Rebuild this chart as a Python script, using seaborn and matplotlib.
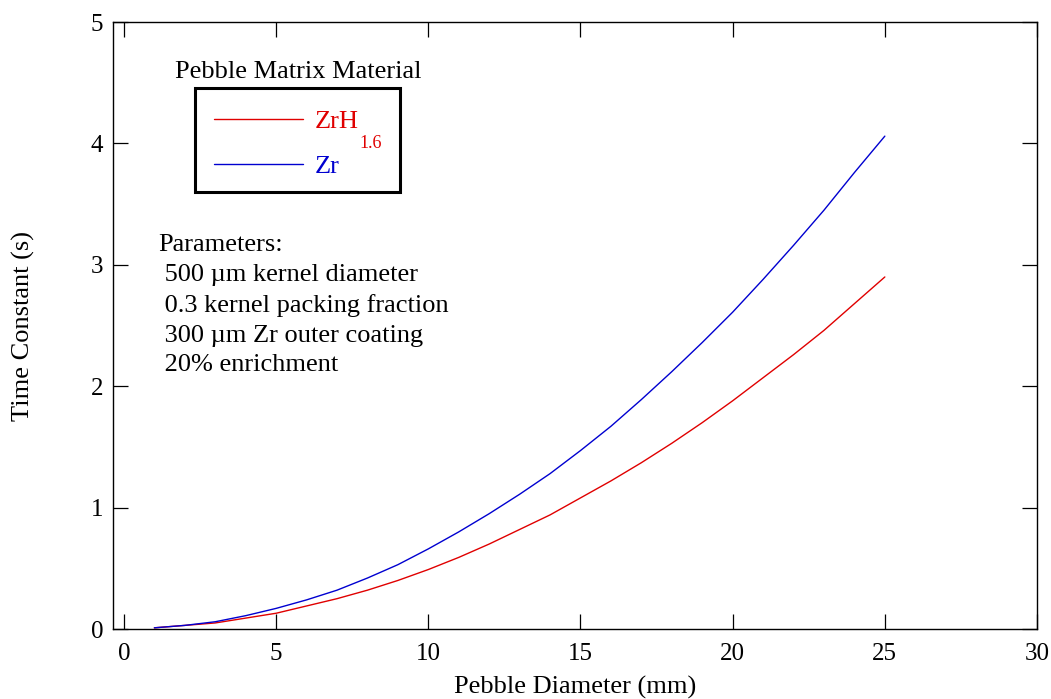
import matplotlib
matplotlib.use("Agg")
import matplotlib.pyplot as plt
from matplotlib.lines import Line2D
from matplotlib.patches import Rectangle
import seaborn as sns
import pandas as pd

# Pebble diameter (mm) and fuel time constant (s) for each matrix material
diameter_mm = list(range(1, 26))
tau_zrh = [0.01, 0.03, 0.05, 0.09, 0.13, 0.19, 0.25, 0.32, 0.40, 0.49,
           0.59, 0.70, 0.82, 0.94, 1.08, 1.22, 1.37, 1.53, 1.70, 1.88,
           2.07, 2.26, 2.46, 2.68, 2.90]
tau_zr = [0.01, 0.03, 0.06, 0.11, 0.17, 0.24, 0.32, 0.42, 0.53, 0.66,
          0.80, 0.95, 1.11, 1.28, 1.47, 1.67, 1.89, 2.12, 2.36, 2.61,
          2.88, 3.16, 3.45, 3.76, 4.06]

series_names = ["ZrH", "Zr"]
series_subscripts = ["1.6", ""]
series_colors = ["#e00000", "#0000d0"]

x_ticks = [0, 5, 10, 15, 20, 25, 30]
y_ticks = [0, 1, 2, 3, 4, 5]

parameters_text = ("Parameters:\n"
                   " 500 \u00b5m kernel diameter\n"
                   " 0.3 kernel packing fraction\n"
                   " 300 \u00b5m Zr outer coating\n"
                   " 20% enrichment")

df = pd.DataFrame({
    "diameter": diameter_mm * 2,
    "tau": tau_zrh + tau_zr,
    "material": [series_names[0]] * len(diameter_mm) + [series_names[1]] * len(diameter_mm),
})

sns.set_style("ticks")
plt.rcParams["font.family"] = ["Liberation Serif", "DejaVu Serif"]
for key in ["text.color", "axes.labelcolor", "xtick.color", "ytick.color", "axes.edgecolor"]:
    plt.rcParams[key] = "black"

fig = plt.figure(figsize=(10.51, 6.99), dpi=100)
ax = fig.add_axes([0.1075, 0.1001, 0.8792, 0.8684])

sns.lineplot(data=df, x="diameter", y="tau", hue="material",
             palette=dict(zip(series_names, series_colors)),
             linewidth=1.0, ax=ax, legend=False)

ax.set_xlim(-0.36, 30)
ax.set_ylim(0, 5)
ax.set_xticks(x_ticks)
ax.set_yticks(y_ticks)
ax.tick_params(axis="both", which="major", direction="in", length=11, width=0.9,
               top=True, right=True, labelsize=18, colors="black")
ax.tick_params(axis="x", pad=10)
ax.tick_params(axis="y", pad=7)
for s in ax.spines.values():
    s.set_visible(True)
    s.set_linewidth(1.0)
    s.set_color("black")

ax.set_xlabel("Pebble Diameter (mm)", fontsize=19, labelpad=8)
ax.set_ylabel("Time Constant (s)", fontsize=19, labelpad=40)

# legend entries; the square frame is drawn afterwards so it also encloses
# the subscript that sits below the chemical symbol
legend_fs = 19
handles = [Line2D([], [], color=c, linewidth=1.0) for c in series_colors]
leg = ax.legend(handles, series_names, loc="upper left",
                bbox_to_anchor=(0.0887, 0.8877), borderaxespad=0,
                fontsize=legend_fs, frameon=False,
                handlelength=3.37, handletextpad=0.42,
                borderpad=0.74, labelspacing=0.81)

fig.canvas.draw()
renderer = fig.canvas.get_renderer()
to_fig = fig.transFigure.inverted()
right_px = leg.get_window_extent(renderer).x1
for txt, sub, c in zip(leg.get_texts(), series_subscripts, series_colors):
    txt.set_color(c)
    if sub:
        bbox = txt.get_window_extent(renderer)
        fx, fy = to_fig.transform((bbox.x1 + 1, bbox.y0 - 15))
        sub_txt = fig.text(fx, fy, sub, fontsize=13, color=c, ha="left", va="baseline")
        right_px = max(right_px, sub_txt.get_window_extent(renderer).x1 + 18)

lb = leg.get_window_extent(renderer)
x0, y0 = to_fig.transform((lb.x0, lb.y0 + 6))
x1, y1 = to_fig.transform((right_px, lb.y1 + 2))
fig.add_artist(Rectangle((x0, y0), x1 - x0, y1 - y0, transform=fig.transFigure,
                         fill=False, edgecolor="black", linewidth=2.2))

ax.text(0.0676, 0.9176, "Pebble Matrix Material", transform=ax.transAxes,
        fontsize=19, va="center", ha="left")

ax.text(0.049, 0.650, parameters_text, transform=ax.transAxes,
        fontsize=19, va="top", ha="left", linespacing=1.445)

fig.savefig("out.png", dpi=100, facecolor="white")
